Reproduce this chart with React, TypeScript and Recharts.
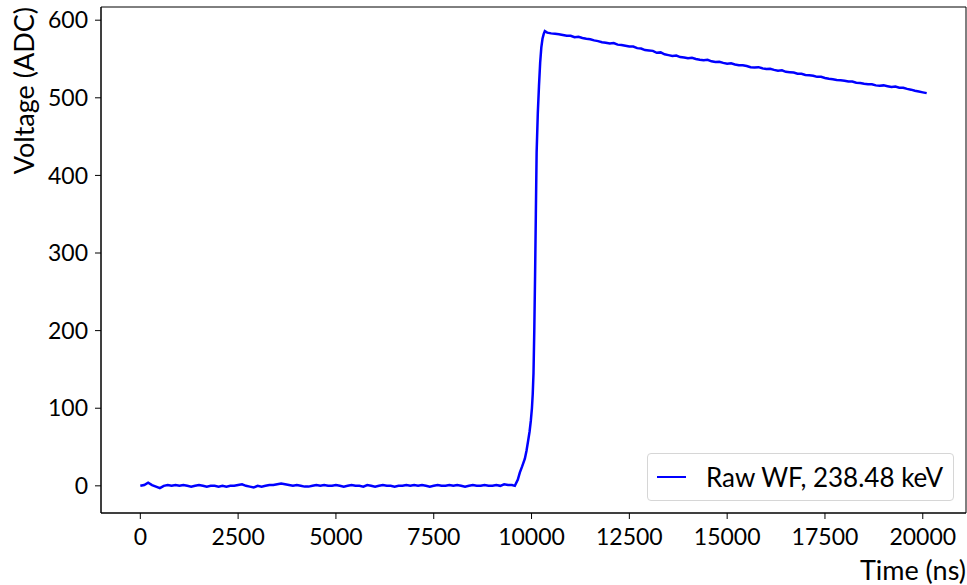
import React from 'react';
import { LineChart, Line, XAxis, YAxis, ReferenceArea } from 'recharts';

// sampling step for the baseline and the tail (ns)
const STEP_NS = 100;

// pre-trigger baseline, 0 .. 9500 ns
const baselineV = [
  0, 1, 4, 1, -1, -3, 0, 1, 0, 1,
  0, 1, 0, -1, 0, 1, 0, -1, 0, 0,
  -1, 0, -1, 0, 0, 1, 2, 0, -1, -2,
  0, -1, 0, 1, 1, 2, 3, 2, 1, 0,
  1, 0, -1, -1, 0, 1, 0, 1, 0, 0,
  1, 0, -1, 0, 1, 0, 0, -1, 1, 0,
  -1, 0, 1, 0, 0, -1, 0, 0, 1, 0,
  1, 0, 1, 0, -1, 0, 1, 0, 0, 1,
  0, 1, 0, -1, 0, 1, 0, 0, 1, 0,
  0, 1, 0, 2, 1, 1,
];

// rising edge
const riseT = [9573, 9650, 9700, 9760, 9829, 9870, 9913, 9950, 9982, 10010, 10030, 10050, 10070, 10090, 10110, 10130, 10160, 10190, 10220, 10250, 10280, 10310, 10340];
const riseV = [0, 8, 17, 25, 35, 45, 58, 70, 84, 100, 118, 145, 200, 270, 350, 430, 480, 515, 545, 565, 576, 582, 586];

// decay tail, 10400 .. 20100 ns
const TAIL_START = 10400;
const tailV = [
  584, 583, 582.5, 582, 581, 580,
  580, 578, 578.5, 577, 576, 575.5, 574, 573, 571.5, 571,
  570, 570.5, 568.5, 568, 567, 566, 566, 564, 563.5, 561.5,
  561, 560.5, 558, 558.5, 556, 555, 554, 554.5, 552.5, 552,
  551, 551.5, 550, 549, 548.5, 549, 547, 546, 546.5, 545,
  544, 544.5, 543, 542, 542, 541, 539.5, 539, 539.5, 538,
  537, 537.5, 536, 535, 535.5, 533.5, 533, 532.5, 531, 531,
  529.5, 529, 528.5, 527, 527, 525.5, 524.5, 524, 523, 522.5,
  522, 521, 521, 519.5, 519, 518, 517.5, 517.5, 516, 515.5,
  516, 515, 514, 514.5, 513, 513, 511.5, 510.5, 509, 508,
  507, 506,
];

const xTicks = [0, 2500, 5000, 7500, 10000, 12500, 15000, 17500, 20000];
const yTicks = [0, 100, 200, 300, 400, 500, 600];
const X_DOMAIN = [-1005, 21105];
const Y_DOMAIN = [-35, 617];
const seriesName = 'Raw WF, 238.48 keV';

const data = [
  ...baselineV.map((v, i) => ({ t: i * STEP_NS, v })),
  ...riseT.map((t, i) => ({ t, v: riseV[i] })),
  ...tailV.map((v, i) => ({ t: TAIL_START + i * STEP_NS, v })),
];

const FONT = 'Lato, "Noto Sans", sans-serif';

// matplotlib-style labels: x label flush right, y label flush top
const XLabel = (props: any) => {
  const vb = props.viewBox;
  return (
    <text x={vb.x + vb.width} y={580} textAnchor="end" fill="#000" fontSize={27} fontFamily={FONT}>
      Time (ns)
    </text>
  );
};

const YLabel = (props: any) => {
  const vb = props.viewBox;
  return (
    <text
      x={34}
      y={vb.y}
      transform={`rotate(-90, 34, ${vb.y})`}
      textAnchor="end"
      fill="#000"
      fontSize={27}
      fontFamily={FONT}
    >
      Voltage (ADC)
    </text>
  );
};

export default function App() {
  return (
    <div style={{ position: 'absolute', left: 0, top: 0, width: 967, height: 585, background: '#fff' }}>
      <LineChart width={967} height={585} data={data} margin={{ top: 7, right: 1, bottom: 0, left: 0 }}>
        <XAxis
          dataKey="t"
          type="number"
          domain={X_DOMAIN}
          allowDataOverflow
          ticks={xTicks}
          height={72}
          tickSize={6}
          tickMargin={10}
          stroke="#000"
          tick={{ fill: '#000', fontSize: 23, fontFamily: FONT }}
          label={<XLabel />}
        />
        <YAxis
          type="number"
          domain={Y_DOMAIN}
          allowDataOverflow
          ticks={yTicks}
          width={101}
          tickSize={6}
          tickMargin={7}
          stroke="#000"
          tick={{ fill: '#000', fontSize: 23, fontFamily: FONT }}
          label={<YLabel />}
        />
        <ReferenceArea
          x1={X_DOMAIN[0]}
          x2={X_DOMAIN[1]}
          y1={Y_DOMAIN[0]}
          y2={Y_DOMAIN[1]}
          fill="none"
          stroke="#000"
          strokeWidth={1}
          fillOpacity={0}
        />
        <Line
          type="linear"
          dataKey="v"
          name={seriesName}
          stroke="#0000ff"
          strokeWidth={2.5}
          dot={false}
          isAnimationActive={false}
        />
      </LineChart>
      <div
        style={{
          position: 'absolute',
          left: 647,
          top: 453,
          width: 307,
          height: 48,
          boxSizing: 'border-box',
          border: '1px solid #d6d6d6',
          borderRadius: 4,
          background: 'rgba(255,255,255,0.8)',
          display: 'flex',
          alignItems: 'center',
          fontFamily: FONT,
          fontSize: 26,
          color: '#000',
        }}
      >
        <svg width={49} height={10} style={{ marginLeft: 9 }}>
          <line x1={0} y1={5} x2={29} y2={5} stroke="#0000ff" strokeWidth={2} />
        </svg>
        <span>{seriesName}</span>
      </div>
    </div>
  );
}
